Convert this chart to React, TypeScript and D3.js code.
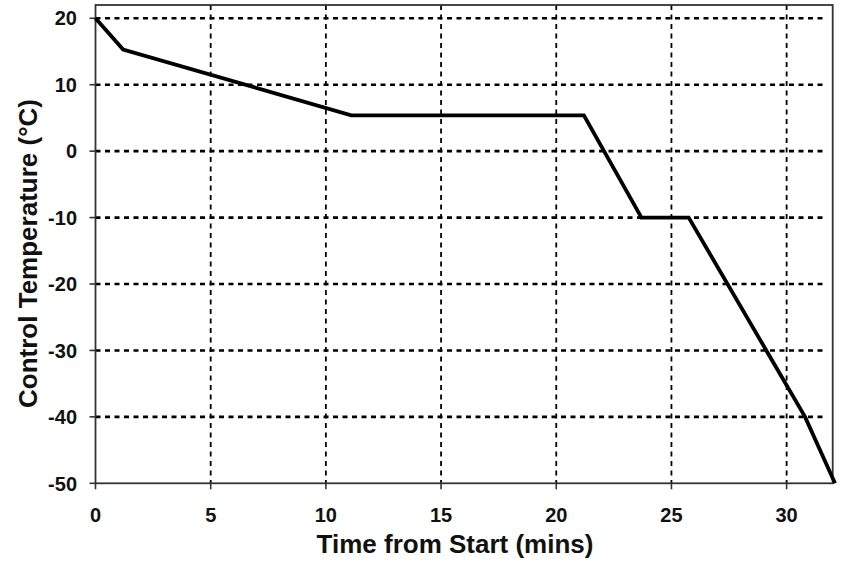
import React from "react";
import * as d3 from "d3";

const timeMins = [0, 1.2, 11.1, 21.2, 23.7, 25.75, 30.8, 32.1];
const tempC = [20, 15.3, 5.4, 5.4, -10, -10, -40, -50];
const xTicks = [0, 5, 10, 15, 20, 25, 30];
const yTicks = [20, 10, 0, -10, -20, -30, -40, -50];
const xTitle = "Time from Start (mins)";
const yTitle = "Control Temperature (°C)";

const W = 846;
const H = 562;
const M = { left: 95.5, right: 832.7, top: 5, bottom: 483.3 };
const FONT = "'Liberation Sans', Arial, Helvetica, sans-serif";

export default function App() {
  const x = d3.scaleLinear().domain([0, 32]).range([M.left, M.right]);
  const y = d3.scaleLinear().domain([-50, 22]).range([M.bottom, M.top]);
  const pts: [number, number][] = timeMins.map((t, i) => [t, tempC[i]]);
  const line = d3
    .line<[number, number]>()
    .x((d) => x(d[0]))
    .y((d) => y(d[1]));

  return (
    <svg
      width={W}
      height={H}
      style={{ position: "absolute", left: 0, top: 0, background: "#fff" }}
      fontFamily={FONT}
    >
      <rect x={0} y={0} width={W} height={H} fill="#fff" />
      {/* horizontal grid */}
      {yTicks
        .filter((v) => v !== -50)
        .map((v) => (
          <line
            key={"hg" + v}
            x1={M.left}
            x2={M.right - 6}
            y1={y(v)}
            y2={y(v)}
            stroke="#000"
            strokeWidth={2.6}
            strokeDasharray="5,4.5"
          />
        ))}
      {/* vertical grid */}
      {xTicks
        .filter((v) => v !== 0)
        .map((v) => (
          <line
            key={"vg" + v}
            x1={x(v)}
            x2={x(v)}
            y1={M.top}
            y2={M.bottom}
            stroke="#000"
            strokeWidth={1.8}
            strokeDasharray="5,4.5"
          />
        ))}
      {/* frame */}
      <rect
        x={M.left}
        y={M.top}
        width={M.right - M.left}
        height={M.bottom - M.top}
        fill="none"
        stroke="#333"
        strokeWidth={1.8}
      />
      {/* ticks */}
      {yTicks.map((v) => (
        <line
          key={"yt" + v}
          x1={M.left - 6}
          x2={M.left}
          y1={y(v)}
          y2={y(v)}
          stroke="#333"
          strokeWidth={1.6}
        />
      ))}
      {xTicks.map((v) => (
        <line
          key={"xt" + v}
          x1={x(v)}
          x2={x(v)}
          y1={M.bottom}
          y2={M.bottom + 6}
          stroke="#333"
          strokeWidth={1.6}
        />
      ))}
      {/* tick labels */}
      {yTicks.map((v) => (
        <text
          key={"yl" + v}
          x={77}
          y={y(v)}
          dy="0.36em"
          textAnchor="end"
          fontSize={20}
          fontWeight="bold"
          fill="#111"
        >
          {v}
        </text>
      ))}
      {xTicks.map((v) => (
        <text
          key={"xl" + v}
          x={x(v)}
          y={522}
          textAnchor="middle"
          fontSize={20}
          fontWeight="bold"
          fill="#111"
        >
          {v}
        </text>
      ))}
      {/* data line */}
      <path
        d={line(pts) || ""}
        fill="none"
        stroke="#000"
        strokeWidth={3.8}
        strokeLinejoin="miter"
      />
      {/* titles */}
      <text
        x={455}
        y={553}
        textAnchor="middle"
        fontSize={26}
        fontWeight="bold"
        fill="#111"
      >
        {xTitle}
      </text>
      <text
        transform={`translate(37, 253.5) rotate(-90)`}
        textAnchor="middle"
        fontSize={26}
        fontWeight="bold"
        fill="#111"
      >
        {yTitle}
      </text>
    </svg>
  );
}
